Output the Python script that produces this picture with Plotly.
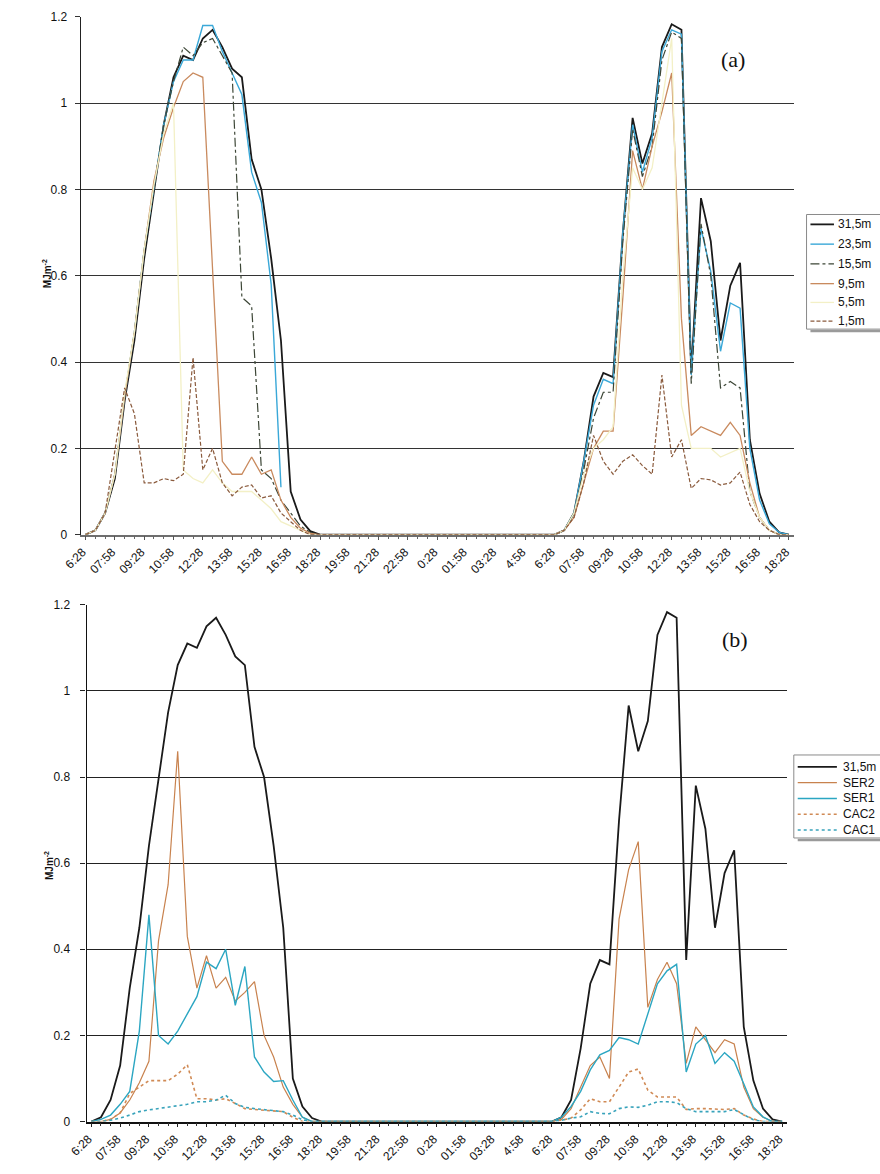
import plotly.graph_objects as go

# ---------------- data ----------------
# 73 half-hourly slots: 6:28 (day 1) ... 18:28 (day 2); labels every 3rd slot
time_labels = ["6:28", "07:58", "09:28", "10:58", "12:28", "13:58", "15:28", "16:58", "18:28",
               "19:58", "21:28", "22:58", "0:28", "01:58", "03:28", "4:58",
               "6:28", "07:58", "09:28", "10:58", "12:28", "13:58", "15:28", "16:58", "18:28"]
slots = list(range(73))
label_slots = list(range(0, 73, 3))

h31_5 = [0, 0.01, 0.05, 0.13, 0.31, 0.45, 0.64, 0.80, 0.95, 1.06, 1.11, 1.10, 1.15, 1.17, 1.13, 1.08, 1.06,
         0.87, 0.80, 0.64, 0.45, 0.10, 0.035, 0.008, 0,
         0, 0, 0, 0, 0, 0, 0, 0, 0, 0, 0, 0, 0, 0, 0, 0, 0, 0, 0, 0, 0, 0, 0,
         0, 0.01, 0.05, 0.17, 0.32, 0.375, 0.365, 0.70, 0.966, 0.86, 0.93, 1.13, 1.183, 1.17, 0.375, 0.78,
         0.68, 0.45, 0.577, 0.63, 0.22, 0.095, 0.03, 0.005, 0]

h23_5 = [0, 0.01, 0.05, 0.14, 0.32, 0.47, 0.66, 0.81, 0.95, 1.05, 1.10, 1.10, 1.18, 1.18, 1.12, 1.07, 1.02,
         0.84, 0.77, 0.58, 0.11, None, None, 0, 0,
         0, 0, 0, 0, 0, 0, 0, 0, 0, 0, 0, 0, 0, 0, 0, 0, 0, 0, 0, 0, 0, 0, 0,
         0, 0.01, 0.05, 0.17, 0.30, 0.36, 0.35, 0.70, 0.95, 0.84, 0.92, 1.12, 1.17, 1.16, 0.37, 0.71,
         0.61, 0.425, 0.537, 0.525, 0.20, 0.08, 0.025, 0.005, 0]

h15_5 = [0, 0.01, 0.05, 0.14, 0.32, 0.47, 0.66, 0.81, 0.95, 1.05, 1.13, 1.11, 1.14, 1.15, 1.11, 1.07, 0.55,
         0.53, 0.15, 0.13, 0.08, 0.05, 0.02, 0.005, 0,
         0, 0, 0, 0, 0, 0, 0, 0, 0, 0, 0, 0, 0, 0, 0, 0, 0, 0, 0, 0, 0, 0, 0,
         0, 0.01, 0.05, 0.15, 0.27, 0.33, 0.33, 0.68, 0.94, 0.83, 0.90, 1.10, 1.165, 1.15, 0.35, 0.72,
         0.60, 0.34, 0.355, 0.34, 0.10, 0.04, 0.01, 0, 0]

h9_5 = [0, 0.01, 0.05, 0.14, 0.32, 0.47, 0.66, 0.82, 0.92, 0.99, 1.05, 1.07, 1.06, 0.60, 0.17, 0.14, 0.14,
        0.18, 0.14, 0.15, 0.08, 0.04, 0.015, 0.003, 0,
        0, 0, 0, 0, 0, 0, 0, 0, 0, 0, 0, 0, 0, 0, 0, 0, 0, 0, 0, 0, 0, 0, 0,
        0, 0.01, 0.04, 0.12, 0.20, 0.24, 0.24, 0.55, 0.89, 0.80, 0.90, 0.98, 1.07, 0.50, 0.23, 0.25,
        0.24, 0.23, 0.26, 0.23, 0.12, 0.04, 0.01, 0, 0]

h5_5 = [0, 0.01, 0.05, 0.14, 0.33, 0.47, 0.66, 0.81, 0.93, 1.00, 0.15, 0.13, 0.12, 0.15, 0.12, 0.10, 0.10,
        0.10, 0.08, 0.06, 0.03, 0.02, 0.01, 0, 0,
        0, 0, 0, 0, 0, 0, 0, 0, 0, 0, 0, 0, 0, 0, 0, 0, 0, 0, 0, 0, 0, 0, 0,
        0, 0.01, 0.05, 0.14, 0.20, 0.22, 0.25, 0.60, 0.85, 0.80, 0.85, 1.00, 1.15, 0.30, 0.20, 0.20,
        0.20, 0.18, 0.19, 0.20, 0.10, 0.04, 0.01, 0, 0]

h1_5 = [0, 0.01, 0.05, 0.20, 0.34, 0.28, 0.12, 0.12, 0.13, 0.125, 0.14, 0.41, 0.15, 0.20, 0.12, 0.09, 0.11,
        0.115, 0.085, 0.09, 0.05, 0.03, 0.01, 0, 0,
        0, 0, 0, 0, 0, 0, 0, 0, 0, 0, 0, 0, 0, 0, 0, 0, 0, 0, 0, 0, 0, 0, 0,
        0, 0.01, 0.04, 0.12, 0.23, 0.17, 0.14, 0.17, 0.185, 0.16, 0.14, 0.37, 0.18, 0.22, 0.107, 0.13,
        0.127, 0.115, 0.12, 0.145, 0.07, 0.03, 0.01, 0, 0]

ser2 = [0, 0, 0.005, 0.02, 0.05, 0.09, 0.14, 0.42, 0.55, 0.86, 0.43, 0.31, 0.385, 0.31, 0.335, 0.28, 0.30,
        0.325, 0.20, 0.15, 0.08, 0.04, 0.01, 0, 0,
        0, 0, 0, 0, 0, 0, 0, 0, 0, 0, 0, 0, 0, 0, 0, 0, 0, 0, 0, 0, 0, 0, 0,
        0, 0.005, 0.03, 0.08, 0.13, 0.15, 0.10, 0.47, 0.585, 0.65, 0.265, 0.33, 0.37, 0.32, 0.135, 0.22,
        0.19, 0.16, 0.19, 0.18, 0.08, 0.03, 0.01, 0, 0]

ser1 = [0, 0.005, 0.015, 0.04, 0.07, 0.21, 0.48, 0.20, 0.18, 0.21, 0.25, 0.29, 0.37, 0.355, 0.40, 0.27, 0.36,
        0.15, 0.115, 0.093, 0.095, 0.05, 0.01, 0, 0,
        0, 0, 0, 0, 0, 0, 0, 0, 0, 0, 0, 0, 0, 0, 0, 0, 0, 0, 0, 0, 0, 0, 0,
        0, 0.01, 0.035, 0.07, 0.12, 0.155, 0.165, 0.195, 0.19, 0.18, 0.25, 0.32, 0.35, 0.365, 0.115, 0.18,
        0.20, 0.135, 0.16, 0.14, 0.088, 0.034, 0.011, 0, 0]

cac2 = [0, 0, 0.005, 0.02, 0.065, 0.08, 0.095, 0.095, 0.095, 0.11, 0.132, 0.053, 0.053, 0.05, 0.053, 0.042,
        0.03, 0.028, 0.026, 0.024, 0.023, 0.01, 0, 0, 0,
        0, 0, 0, 0, 0, 0, 0, 0, 0, 0, 0, 0, 0, 0, 0, 0, 0, 0, 0, 0, 0, 0, 0,
        0, 0.003, 0.008, 0.027, 0.053, 0.046, 0.046, 0.08, 0.115, 0.122, 0.073, 0.057, 0.057, 0.057, 0.028,
        0.03, 0.03, 0.029, 0.028, 0.03, 0.015, 0.006, 0, 0, 0]

cac1 = [0, 0, 0.003, 0.008, 0.015, 0.023, 0.027, 0.03, 0.033, 0.036, 0.04, 0.046, 0.046, 0.05, 0.061, 0.042,
        0.033, 0.03, 0.028, 0.026, 0.023, 0.015, 0.004, 0, 0,
        0, 0, 0, 0, 0, 0, 0, 0, 0, 0, 0, 0, 0, 0, 0, 0, 0, 0, 0, 0, 0, 0, 0,
        0, 0.003, 0.008, 0.011, 0.023, 0.019, 0.018, 0.03, 0.034, 0.033, 0.038, 0.046, 0.046, 0.044, 0.03,
        0.023, 0.023, 0.023, 0.023, 0.028, 0.015, 0.004, 0, 0, 0]

y_ticks = [0, 0.2, 0.4, 0.6, 0.8, 1.0, 1.2]
y_tick_text = ["0", "0.2", "0.4", "0.6", "0.8", "1", "1.2"]

# ---------------- figure ----------------
W, H = 880, 1174
FONT = "Liberation Sans, Arial, sans-serif"


def px_x(p):
    return p / W


def px_y(p):
    return 1 - p / H


top_series = [
    ("31,5m", h31_5, "#1a1a1a", "solid", 1.8),
    ("23,5m", h23_5, "#3aa8d8", "solid", 1.4),
    ("15,5m", h15_5, "#3c4636", "dashdot", 1.2),
    ("9,5m", h9_5, "#c98a5e", "solid", 1.3),
    ("5,5m", h5_5, "#f3f0c6", "solid", 1.3),
    ("1,5m", h1_5, "#8a5a3c", "4px,2px", 1.2),
]
bot_series = [
    ("31,5m", h31_5, "#1a1a1a", "solid", 1.8),
    ("SER2", ser2, "#c8824e", "solid", 1.2),
    ("SER1", ser1, "#2ba6c2", "solid", 1.4),
    ("CAC2", cac2, "#d08a55", "dot", 1.6),
    ("CAC1", cac1, "#38a3bb", "dot", 1.6),
]

fig = go.Figure()
for name, ys, col, dash, w in top_series:
    fig.add_trace(go.Scatter(x=slots, y=ys, name=name, mode="lines", showlegend=False,
                             line=dict(color=col, dash=dash, width=w), xaxis="x", yaxis="y"))
for name, ys, col, dash, w in bot_series:
    fig.add_trace(go.Scatter(x=slots, y=ys, name=name, mode="lines", showlegend=False,
                             line=dict(color=col, dash=dash, width=w), xaxis="x2", yaxis="y2"))

xcommon = dict(range=[-0.5, 72.5], tickmode="array", tickvals=label_slots, ticktext=time_labels,
               tickangle=-45, ticks="outside", ticklen=4, tickwidth=1, ticklabelshift=-3,
               minor=dict(tickmode="linear", tick0=0, dtick=1, ticks="outside", ticklen=3,
                          tickwidth=1, showgrid=False),
               showgrid=False, zeroline=False, showline=True, linewidth=1.5,
               tickfont=dict(family=FONT, size=12, color="#111"))
ycommon = dict(range=[0, 1.2], tickmode="array", tickvals=y_ticks, ticktext=y_tick_text,
               ticks="outside", ticklen=5, tickwidth=1,
               showgrid=True, gridwidth=1, zeroline=False, showline=True, linewidth=1.2,
               tickfont=dict(family=FONT, size=12, color="#111"))

fig.update_layout(
    width=W, height=H,
    margin=dict(l=0, r=0, t=0, b=0),
    paper_bgcolor="white", plot_bgcolor="white",
    showlegend=False,
    xaxis=dict(xcommon, domain=[px_x(64), px_x(792)], anchor="y",
               linecolor="#6e6e6e", tickcolor="#555", minor_tickcolor="#666"),
    yaxis=dict(ycommon, domain=[px_y(534), px_y(10)], anchor="x", ticklabelstandoff=5,
               linecolor="#222", gridcolor="#333", tickcolor="#333"),
    xaxis2=dict(xcommon, domain=[px_x(70), px_x(785)], anchor="y2",
                linecolor="#111", tickcolor="#222", minor_tickcolor="#333"),
    yaxis2=dict(ycommon, domain=[px_y(1128), px_y(605)], anchor="x2", ticklabelstandoff=8,
                linecolor="#111", gridcolor="#222", tickcolor="#222"),
)

shapes = []
annotations = [
    dict(text="(a)", x=px_x(730), y=px_y(53), xref="paper", yref="paper", showarrow=False,
         xanchor="center", yanchor="middle",
         font=dict(family="Liberation Serif, Times New Roman, serif", size=22, color="#111")),
    dict(text="(b)", x=px_x(732), y=px_y(640), xref="paper", yref="paper", showarrow=False,
         xanchor="center", yanchor="middle",
         font=dict(family="Liberation Serif, Times New Roman, serif", size=22, color="#111")),
    dict(text="<b>MJm<sup>-2</sup></b>", x=px_x(29), y=px_y(270), xref="paper", yref="paper",
         xanchor="center", yanchor="middle",
         showarrow=False, textangle=-90, font=dict(family=FONT, size=10, color="#111")),
    dict(text="<b>MJm<sup>-2</sup></b>", x=px_x(31), y=px_y(869), xref="paper", yref="paper",
         xanchor="center", yanchor="middle",
         showarrow=False, textangle=-90, font=dict(family=FONT, size=10, color="#111")),
]


def add_legend(series, box, rows_y, x_line0, x_line1, x_text, shadow_y):
    bx0, by0, bx1, by1 = box
    shapes.append(dict(type="rect", xref="paper", yref="paper",
                       x0=px_x(bx0), x1=px_x(bx1), y0=px_y(by1), y1=px_y(by0),
                       line=dict(color="#8a8a8a", width=1), fillcolor="white", layer="above"))
    shapes.append(dict(type="line", xref="paper", yref="paper",
                       x0=px_x(bx0 + 4), x1=px_x(bx1), y0=px_y(shadow_y), y1=px_y(shadow_y),
                       line=dict(color="#9a9a9a", width=2.5), layer="above"))
    for (name, ys, col, dash, w), yy in zip(series, rows_y):
        shapes.append(dict(type="line", xref="paper", yref="paper",
                           x0=px_x(x_line0), x1=px_x(x_line1), y0=px_y(yy), y1=px_y(yy),
                           line=dict(color=col, dash=dash, width=w), layer="above"))
        annotations.append(dict(text=name, x=px_x(x_text), y=px_y(yy), xref="paper", yref="paper",
                                xanchor="left", yanchor="middle", showarrow=False,
                                font=dict(family=FONT, size=12, color="#111")))


add_legend(top_series, (805, 210, 884, 326), [220, 240, 260, 280, 299, 318], 809, 833, 835, 328)
add_legend(bot_series, (792, 757, 884, 841), [769, 785, 801, 817, 833], 796, 836, 840, 843)

fig.update_layout(shapes=shapes, annotations=annotations)

# remove the browser's default 8px body margin so the figure sits at the page origin
fig.write_html("out.html",
               post_script="document.body.style.margin='0px';document.body.style.padding='0px';")
